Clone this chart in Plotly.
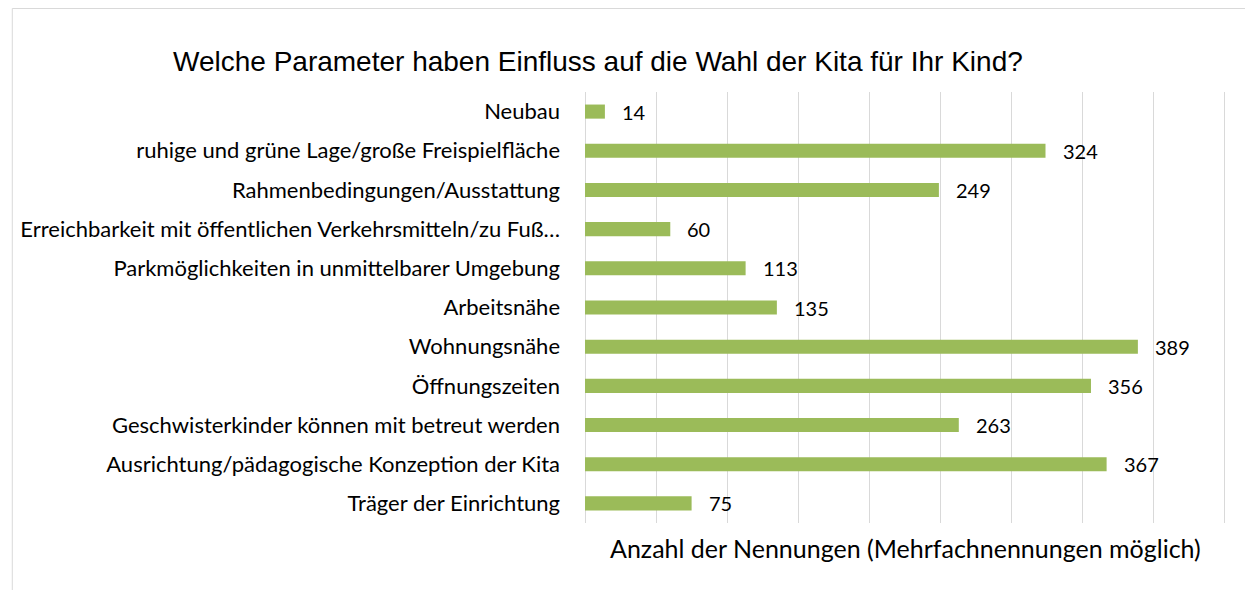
import plotly.graph_objects as go

categories = [
    "Neubau",
    "ruhige und grüne Lage/große Freispielfläche",
    "Rahmenbedingungen/Ausstattung",
    "Erreichbarkeit mit öffentlichen Verkehrsmitteln/zu Fuß…",
    "Parkmöglichkeiten in unmittelbarer Umgebung",
    "Arbeitsnähe",
    "Wohnungsnähe",
    "Öffnungszeiten",
    "Geschwisterkinder können mit betreut werden",
    "Ausrichtung/pädagogische Konzeption der Kita",
    "Träger der Einrichtung",
]
values = [14, 324, 249, 60, 113, 135, 389, 356, 263, 367, 75]

title_text = "Welche Parameter haben Einfluss auf die Wahl der Kita für Ihr Kind?"
xaxis_title = "Anzahl der Nennungen (Mehrfachnennungen möglich)"

# page has an 8px body margin, so the figure is laid out in page coords minus 8
OFF = 8
W, H = 1253 - OFF, 590 - OFF
L, R, T, B = 583 - OFF, 27, 92 - OFF, 67
pw, ph = W - L - R, H - T - B

label_font = "Lato, Open Sans, sans-serif"

fig = go.Figure()
fig.add_trace(go.Bar(
    y=categories, x=values, orientation="h",
    marker=dict(color="#9BBB59", line=dict(width=0)),
    width=0.36,
    hoverinfo="x+y",
))

for c, v in zip(categories, values):
    fig.add_annotation(x=v, y=c, text=str(v), showarrow=False,
                       xanchor="left", xshift=15,
                       font=dict(family=label_font, size=20, color="#000000"))

def px2paper_x(px):
    return (px - OFF - L) / pw

def py2paper_y(py):
    return (H - B - (py - OFF)) / ph

fig.add_shape(type="rect", xref="paper", yref="paper",
              x0=px2paper_x(OFF + 0.5), x1=px2paper_x(1253 + 20),
              y0=py2paper_y(590 + 20), y1=py2paper_y(OFF + 0.5),
              line=dict(color="#D9D9D9", width=1), fillcolor="rgba(0,0,0,0)", layer="below")

fig.add_annotation(xref="paper", yref="paper", x=px2paper_x(596), y=py2paper_y(62),
                   text=title_text, showarrow=False, xanchor="center", yanchor="middle",
                   font=dict(family="Liberation Sans, Arial, sans-serif", size=28, color="#000000"))

fig.add_annotation(xref="paper", yref="paper", x=px2paper_x(904), y=py2paper_y(548),
                   text=xaxis_title, showarrow=False, xanchor="center", yanchor="middle",
                   font=dict(family=label_font, size=25, color="#000000"))

fig.update_layout(
    width=W, height=H,
    margin=dict(l=L, r=R, t=T, b=B, pad=0),
    paper_bgcolor="white", plot_bgcolor="white",
    showlegend=False,
    xaxis=dict(range=[0, 451], dtick=50, tick0=0, showgrid=True, gridcolor="#D9D9D9", gridwidth=1,
               showticklabels=False, zeroline=True, zerolinecolor="#D9D9D9", zerolinewidth=1,
               showline=False, ticks="", fixedrange=True),
    yaxis=dict(autorange="reversed", showgrid=False, ticks="", showline=False,
               ticklabelstandoff=24,
               tickfont=dict(family=label_font, size=22, color="#000000")),
)

fig.write_html("out.html")
